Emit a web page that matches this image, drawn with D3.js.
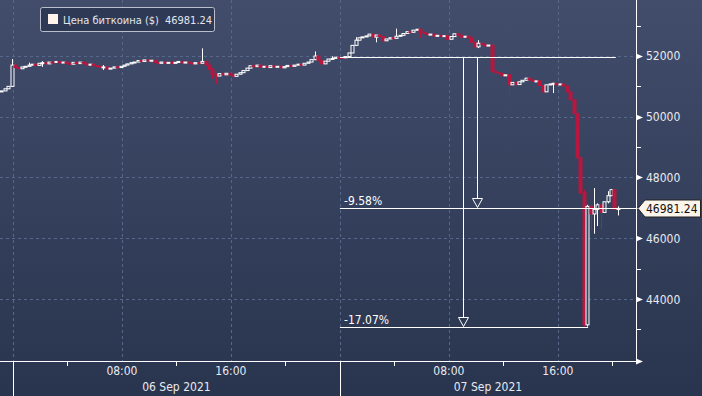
<!DOCTYPE html>
<html>
<head>
<meta charset="utf-8">
<script src="https://cdn.jsdelivr.net/npm/d3@7"></script>
<style>
  body { margin: 0; background: #2b3651; }
  svg text { font-family: "DejaVu Sans Condensed", "DejaVu Sans", sans-serif; }
</style>
</head>
<body>
<svg id="chart"></svg>
<script>
// size of the picture and of the plotting area
var screenWidth = 702,
    screenHeight = 396,
    plotRight = 636,
    plotBottom = 361;

// 15 minute candles, first one opens 05 Sep 2021 23:00
var firstCandle = new Date(2021, 8, 5, 23, 0);
var firstOpen = 50820;

// closing prices, one per candle
var closes = [
  50850, 50920, 51000, 51700,
  51620, 51580, 51640, 51660,
  51700, 51730, 51690, 51760,
  51780, 51740, 51800, 51790,
  51820, 51770, 51800, 51760,
  51730, 51790, 51750, 51800,
  51760, 51700, 51730, 51680,
  51660, 51620, 51640, 51570,
  51600, 51640, 51620, 51660,
  51700, 51740, 51780,
  51800, 51850, 51820, 51870,
  51840, 51860, 51780, 51760,
  51800, 51770, 51790, 51760,
  51790, 51820, 51770, 51800,
  51770, 51740, 51780, 51760,
  51820, 51700, 51560, 51400,
  51340, 51420, 51380, 51430,
  51370, 51330, 51400, 51450,
  51520, 51600, 51680, 51650,
  51700, 51630, 51660, 51620,
  51680, 51640, 51660, 51610,
  51650, 51690, 51660, 51700,
  51730, 51700, 51760, 51800,
  51880, 52000, 51850, 51740,
  51830, 51900, 51920, 51960,
  51950, 51940, 51980, 52100,
  52350, 52520, 52600, 52630,
  52660, 52720, 52620, 52690,
  52640, 52500, 52560, 52600,
  52580, 52650, 52680,
  52740, 52800, 52780, 52850,
  52880, 52780, 52740, 52700,
  52720, 52650, 52680, 52640,
  52670, 52550, 52640, 52730,
  52680, 52620, 52650, 52600,
  52450, 52300, 52420, 52380,
  52330, 52360, 51500, 51450,
  51420, 51350, 51380, 51050,
  51130, 51060, 51150, 51200,
  51270, 51210, 51160, 51180,
  51030, 50820, 51050, 51080,
  51100, 51050, 51080, 51010,
  50820, 50560, 50100, 48650,
  47500, 43150, 47050, 46800,
  46950, 47100, 46850, 47200,
  47400, 47600, 46950, 46981.24
];

// candles whose wicks reach past the body: [candle index, high, low]
var wicks = [
  [3, 51900, 50980], [8, 51780, 51640], [12, 51830, 51640], [20, 51830, 51700],
  [30, 51700, 51540], [41, 51900, 51800], [50, 51840, 51720],
  [59, 52250, 51760], [62, 51600, 51250], [63, 51420, 51080], [68, 51460, 51300],
  [74, 51720, 51600], [85, 51720, 51600], [92, 52150, 51860], [97, 51990, 51880],
  [104, 52620, 52330], [110, 52560, 52450], [116, 52900, 52620], [123, 52800, 52600],
  [135, 52700, 52540], [140, 52520, 52260], [149, 51400, 50700], [155, 51300, 51120],
  [162, 51120, 50780],
  [169, 50150, 48600], [170, 48100, 47450], [171, 47600, 43090],
  [172, 47100, 43090], [173, 47100, 46250], [174, 47650, 46150],
  [175, 47150, 46400], [176, 47120, 46300], [178, 47550, 47150],
  [181, 47050, 46750]
];

// annotation: reference level and the two drops
var refLevel = 51959,
    refStart = new Date(2021, 8, 7, 0, 0),
    refEnd = new Date(2021, 8, 7, 20, 15),
    dropTimes = [new Date(2021, 8, 7, 10, 5), new Date(2021, 8, 7, 9, 4)];

var priceTicks = [44000, 46000, 48000, 50000, 52000],
    minorTicks = [43000, 45000, 47000, 49000, 51000, 53000],
    legendLabel = "Цена биткоина ($)";

// build OHLC rows
var candles = closes.map(function(c, i) {
  var open = i === 0 ? firstOpen : closes[i - 1];
  return {
    t: d3.timeMinute.offset(firstCandle, i * 15),
    open: open, close: c,
    high: Math.max(open, c), low: Math.min(open, c)
  };
});
wicks.forEach(function(w) {
  candles[w[0]].high = Math.max(candles[w[0]].high, w[1]);
  candles[w[0]].low = Math.min(candles[w[0]].low, w[2]);
});
var last = candles[candles.length - 1].close,
    minLow = d3.min(candles, function(d) { return d.low; });

var xScale = d3.scaleTime()
               .domain([new Date(2021, 8, 5, 23, 3), new Date(2021, 8, 7, 21, 44)])
               .range([0, plotRight]);
var yScale = d3.scaleLinear()
               .domain([41959, 53843])
               .range([plotBottom, 0]);

var svg = d3.select('#chart')
            .attr('width', screenWidth)
            .attr('height', screenHeight);

var grad = svg.append('defs').append('linearGradient')
              .attr('id', 'bg').attr('x1', 0).attr('x2', 0).attr('y1', 0).attr('y2', 1);
grad.append('stop').attr('offset', '0%').attr('stop-color', '#414d6b');
grad.append('stop').attr('offset', '100%').attr('stop-color', '#29344e');

svg.append('rect')
   .attr('width', screenWidth).attr('height', screenHeight)
   .attr('fill', 'url(#bg)');

var gridColor = '#57678a';

// horizontal dashed grid
svg.selectAll('.hgrid')
   .data(priceTicks)
   .enter().append('line')
   .attr('x1', 0).attr('x2', plotRight)
   .attr('y1', function(d) { return Math.round(yScale(d)) + 0.5; })
   .attr('y2', function(d) { return Math.round(yScale(d)) + 0.5; })
   .attr('stroke', gridColor).attr('stroke-dasharray', '3,3');

// vertical dashed grid every 8 hours
var gridTimes = d3.timeHour.every(8).range(new Date(2021, 8, 6, 0), new Date(2021, 8, 7, 22));
svg.selectAll('.vgrid')
   .data(gridTimes)
   .enter().append('line')
   .attr('x1', function(d) { return Math.round(xScale(d)) + 0.5; })
   .attr('x2', function(d) { return Math.round(xScale(d)) + 0.5; })
   .attr('y1', 0).attr('y2', plotBottom)
   .attr('stroke', gridColor).attr('stroke-dasharray', '3,3');

// candles
var bodyW = 3;
var redColor = '#b8173f';
var cg = svg.append('g');
cg.selectAll('.wick')
  .data(candles)
  .enter().append('line')
  .attr('x1', function(d) { return Math.round(xScale(d.t)) + 2.5; })
  .attr('x2', function(d) { return Math.round(xScale(d.t)) + 2.5; })
  .attr('y1', function(d) { return yScale(d.high); })
  .attr('y2', function(d) { return yScale(d.low); })
  .attr('stroke', function(d) { return d.close >= d.open ? '#ffffff' : redColor; });
cg.selectAll('.body')
  .data(candles)
  .enter().append('rect')
  .attr('x', function(d) { return Math.round(xScale(d.t)) + 1; })
  .attr('width', bodyW)
  .attr('y', function(d) { return yScale(Math.max(d.open, d.close)); })
  .attr('height', function(d) { return Math.max(1, Math.abs(yScale(d.open) - yScale(d.close))); })
  .attr('fill', function(d) { return d.close >= d.open ? '#3a4663' : redColor; })
  .attr('stroke', function(d) { return d.close >= d.open ? '#ffffff' : redColor; })
  .attr('stroke-width', 1);

// annotation lines
var yRef = Math.round(yScale(refLevel)) + 0.5,
    yLast = Math.round(yScale(last)) + 0.5,
    yLow = Math.round(yScale(minLow)) + 0.5;
var ann = svg.append('g').attr('stroke', '#ffffff').attr('fill', 'none');
ann.append('line').attr('x1', xScale(refStart)).attr('x2', xScale(refEnd)).attr('y1', yRef).attr('y2', yRef);
ann.append('line').attr('x1', xScale(refStart)).attr('x2', plotRight).attr('y1', yLast).attr('y2', yLast);
ann.append('line').attr('x1', xScale(refStart)).attr('x2', xScale(candles[172].t) + 3).attr('y1', yLow).attr('y2', yLow);

[[dropTimes[0], yLast], [dropTimes[1], yLow]].forEach(function(a) {
  var x = Math.round(xScale(a[0])) + 0.5;
  ann.append('line').attr('x1', x).attr('x2', x).attr('y1', yRef).attr('y2', a[1] - 10);
  ann.append('path')
     .attr('d', 'M' + (x - 5) + ',' + (a[1] - 10) + 'L' + (x + 5) + ',' + (a[1] - 10) + 'L' + x + ',' + (a[1] - 1) + 'Z');
});

// percent labels, plain hyphen as in the original
var pctFmt = d3.formatLocale({decimal: '.', thousands: ',', grouping: [3], currency: ['', ''], minus: '-'}).format('.2f');
[[last, yLast], [minLow, yLow]].forEach(function(a) {
  svg.append('text')
     .attr('x', 344).attr('y', a[1] - 4)
     .attr('fill', '#ffffff').attr('font-size', 12)
     .text(pctFmt((a[0] / refLevel - 1) * 100) + '%');
});

// right price axis
var axisG = svg.append('g').attr('stroke', '#ffffff');
axisG.append('line').attr('x1', plotRight + 0.5).attr('x2', plotRight + 0.5).attr('y1', 0).attr('y2', plotBottom + 0.5);
axisG.selectAll('.minor')
     .data(minorTicks)
     .enter().append('line')
     .attr('x1', plotRight).attr('x2', plotRight + 5)
     .attr('y1', function(d) { return Math.round(yScale(d)) + 0.5; })
     .attr('y2', function(d) { return Math.round(yScale(d)) + 0.5; });
svg.selectAll('.major')
   .data(priceTicks)
   .enter().append('path')
   .attr('fill', '#ffffff')
   .attr('d', function(d) {
     var y = Math.round(yScale(d)) + 0.5;
     return 'M' + plotRight + ',' + (y - 3) + 'L' + (plotRight + 7) + ',' + y + 'L' + plotRight + ',' + (y + 3) + 'Z';
   });
svg.selectAll('.plabel')
   .data(priceTicks)
   .enter().append('text')
   .attr('x', plotRight + 10)
   .attr('y', function(d) { return yScale(d) + 4.5; })
   .attr('fill', '#e8eaf0').attr('font-size', 12)
   .text(function(d) { return d; });

// last price tag
var tag = svg.append('g');
tag.append('path')
   .attr('d', 'M638,' + yLast + 'L645,' + (yLast - 8.5) + 'L700.5,' + (yLast - 8.5) +
              'L700.5,' + (yLast + 8.5) + 'L645,' + (yLast + 8.5) + 'Z')
   .attr('fill', '#fcf5ec').attr('stroke', '#222222');
tag.append('text')
   .attr('x', 646).attr('y', yLast + 4.5)
   .attr('fill', '#111111').attr('font-size', 12)
   .text(d3.format('.2f')(last));

// bottom time axis
var bx = svg.append('g').attr('stroke', '#ffffff');
bx.append('line').attr('x1', 0).attr('x2', plotRight + 1).attr('y1', plotBottom + 0.5).attr('y2', plotBottom + 0.5);
svg.append('path')
   .attr('fill', '#ffffff')
   .attr('d', 'M' + plotRight + ',' + (plotBottom - 2.5) + 'L' + (plotRight + 7) + ',' + (plotBottom + 0.5) +
              'L' + plotRight + ',' + (plotBottom + 3.5) + 'Z');
var minorTimes = d3.timeHour.every(4).range(new Date(2021, 8, 6, 4), new Date(2021, 8, 7, 22))
                   .filter(function(d) { return d.getHours() % 8 === 4; });
bx.selectAll('.tick')
  .data(minorTimes)
  .enter().append('line')
  .attr('x1', function(d) { return Math.round(xScale(d)) + 0.5; })
  .attr('x2', function(d) { return Math.round(xScale(d)) + 0.5; })
  .attr('y1', plotBottom).attr('y2', plotBottom + 5);
var days = [new Date(2021, 8, 6), new Date(2021, 8, 7)];
bx.selectAll('.day')
  .data(days)
  .enter().append('line')
  .attr('x1', function(d) { return Math.round(xScale(d)) + 0.5; })
  .attr('x2', function(d) { return Math.round(xScale(d)) + 0.5; })
  .attr('y1', plotBottom).attr('y2', screenHeight);

var hourLabels = gridTimes.filter(function(d) { return d.getHours() !== 0; });
svg.selectAll('.hlabel')
   .data(hourLabels)
   .enter().append('text')
   .attr('x', function(d) { return xScale(d); })
   .attr('y', plotBottom + 14)
   .attr('text-anchor', 'middle')
   .attr('fill', '#e8eaf0').attr('font-size', 12)
   .text(d3.timeFormat('%H:%M'));
svg.selectAll('.dlabel')
   .data(days)
   .enter().append('text')
   .attr('x', function(d) {
     var end = Math.min(plotRight, xScale(d3.timeDay.offset(d, 1)));
     return (xScale(d) + end) / 2;
   })
   .attr('y', plotBottom + 30)
   .attr('text-anchor', 'middle')
   .attr('fill', '#e8eaf0').attr('font-size', 12)
   .text(d3.timeFormat('%d %b %Y'));

// legend
var lg = svg.append('g');
lg.append('rect')
  .attr('x', 40.5).attr('y', 7.5).attr('width', 174).attr('height', 24).attr('rx', 2)
  .attr('fill', '#2d3955').attr('stroke', '#b9bfcc');
lg.append('rect')
  .attr('x', 48).attr('y', 14).attr('width', 10).attr('height', 10)
  .attr('fill', '#fff3ec');
var lt = lg.append('text')
  .attr('x', 63).attr('y', 23.5)
  .attr('fill', '#e3e6ee').attr('font-size', 11);
lt.append('tspan').text(legendLabel);
lt.append('tspan').attr('dx', 6).text(d3.format('.2f')(last));
</script>
</body>
</html>
